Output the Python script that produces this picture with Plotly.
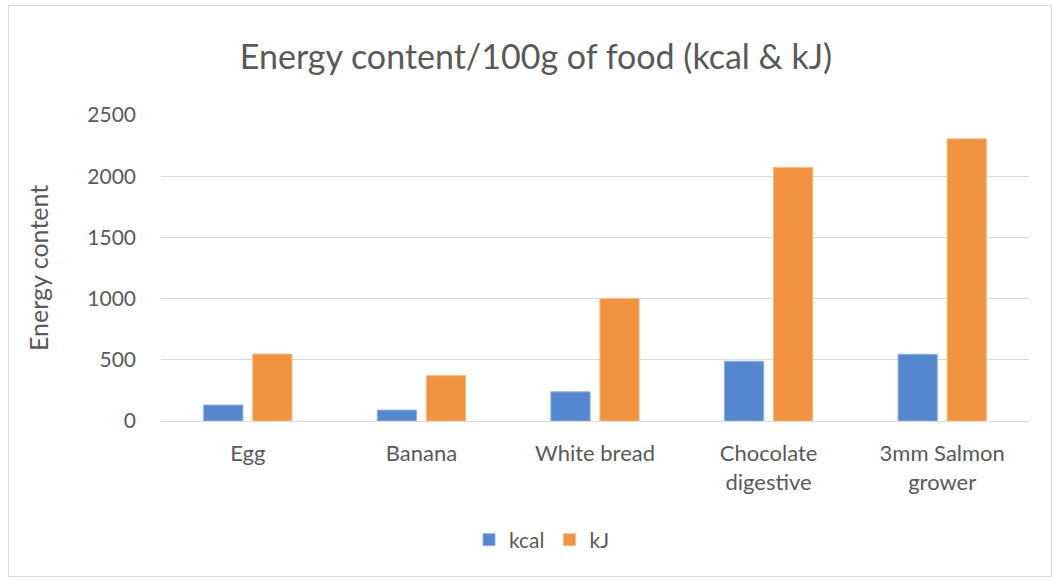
import plotly.graph_objects as go

categories = ["Egg", "Banana", "White bread", "Chocolate<br>digestive", "3mm Salmon<br>grower"]
kcal = [131, 89, 238, 488, 545]
kj = [547, 371, 1000, 2072, 2305]
y_ticks = [0, 500, 1000, 1500, 2000, 2500]

FONT = "Lato"
TXT = "#595959"
GRID = "#D9D9D9"

W, H = 1052, 580
L, R, T, B = 161, 23, 115, 159
pw, ph = W - L - R, H - T - B

def px(x):
    return (x - L) / pw

def py(y):
    return (H - B - y) / ph

fig = go.Figure()
fig.add_trace(go.Bar(name="kcal", x=categories, y=kcal,
                     marker=dict(color="#5587CF", line=dict(color="#8FB0E3", width=1))))
fig.add_trace(go.Bar(name="kJ", x=categories, y=kj,
                     marker=dict(color="#F1923F", line=dict(color="#F6BC8A", width=1))))

fig.update_layout(
    width=W, height=H,
    margin=dict(l=L, r=R, t=T, b=B, autoexpand=False),
    paper_bgcolor="white", plot_bgcolor="white",
    barmode="group", bargap=0.435, bargroupgap=0.2,
    font=dict(family=FONT, color=TXT, size=20),
    title=dict(text="Energy content/100g of food (kcal & kJ)", x=536 / W, xref="container",
               xanchor="center", y=1 - 57 / H, yanchor="middle",
               font=dict(family=FONT, size=34, color=TXT)),
    showlegend=True,
    legend=dict(orientation="h", x=px(542), xanchor="center", y=py(540), yanchor="middle",
                font=dict(family=FONT, size=21, color=TXT), itemwidth=30, traceorder="normal"),
    xaxis=dict(showline=False, ticks="", tickfont=dict(family=FONT, size=22, color=TXT),
               ticklabelstandoff=17, automargin=False),
    yaxis=dict(range=[0, 2500], tickvals=y_ticks, showgrid=True, gridcolor=GRID, gridwidth=1,
               zeroline=True, zerolinecolor=GRID, zerolinewidth=1, showline=False, ticks="",
               tickfont=dict(family=FONT, size=21, color=TXT), ticklabelstandoff=24, automargin=False),
)

fig.add_annotation(text="Energy content", textangle=-90, xref="paper", yref="paper",
                   x=px(38), y=py(268), xanchor="center", yanchor="middle", showarrow=False,
                   font=dict(family=FONT, size=25, color=TXT))

fig.add_shape(type="rect", xref="paper", yref="paper", x0=px(8.5), x1=px(1051.5), y0=py(576.5), y1=py(5.5),
              line=dict(color=GRID, width=1), fillcolor="rgba(0,0,0,0)", layer="below")

fig.write_html("out.html")
